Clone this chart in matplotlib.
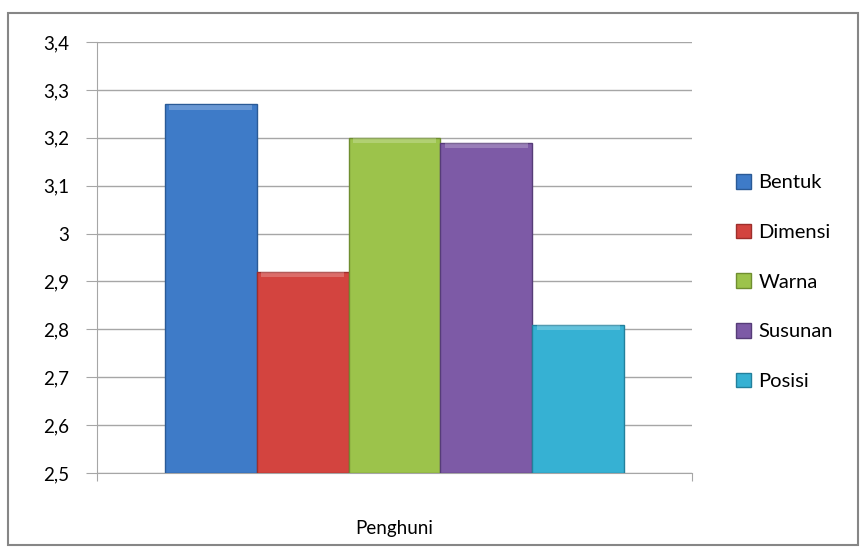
import matplotlib.pyplot as plt
import matplotlib.patches as mpatches

# data
kategori = ["Penghuni"]
seri = ["Bentuk", "Dimensi", "Warna", "Susunan", "Posisi"]
nilai = [3.27, 2.92, 3.20, 3.19, 2.81]
warna = ["#3E7BC8", "#D3443F", "#9CC34B", "#7D5AA6", "#36B1D3"]
tepi = ["#2A5A96", "#9E2E2B", "#6F8E30", "#563C78", "#23809C"]
yticks = [2.5, 2.6, 2.7, 2.8, 2.9, 3.0, 3.1, 3.2, 3.3, 3.4]
ylabels = ["2,5", "2,6", "2,7", "2,8", "2,9", "3", "3,1", "3,2", "3,3", "3,4"]

plt.rcParams['font.family'] = ['Lato', 'DejaVu Sans']

fig = plt.figure(figsize=(8.64, 5.53), dpi=100)
ax = fig.add_axes([97 / 864, 1 - 473 / 553, 595 / 864, 431 / 553])

# bingkai luar
fig.patches.append(mpatches.Rectangle((8 / 864, 1 - 545 / 553), 850 / 864, 532 / 553,
                                      transform=fig.transFigure, fill=False,
                                      edgecolor="#868686", linewidth=1.5))

lebar = 0.1546
for i, (s, v) in enumerate(zip(seri, nilai)):
    x = (i - 2) * lebar
    ax.bar(x, v - 2.5, bottom=2.5, width=lebar, color=warna[i], edgecolor=tepi[i],
           linewidth=1.0, label=s, zorder=3)
    # efek bevel atas
    ax.bar(x, 0.01, bottom=v - 0.011, width=lebar * 0.9, color="white", alpha=0.22,
           linewidth=0, zorder=4)

ax.set_xlim(-0.5, 0.5)
ax.set_ylim(2.5, 3.4)
ax.set_yticks(yticks)
ax.set_yticklabels(ylabels, fontsize=13.5)
ax.yaxis.grid(True, color="#A6A6A6", linewidth=1.0, zorder=0)
ax.tick_params(axis='y', length=8, color="#A6A6A6", pad=12)

ax.set_xticks([-0.5, 0.5])
ax.set_xticklabels(["", ""])
ax.set_xticks([0], minor=True)
ax.set_xticklabels(kategori, minor=True, fontsize=13.5)
ax.tick_params(axis='x', which='major', length=6, color="#A6A6A6")
ax.tick_params(axis='x', which='minor', length=0, pad=34)

for sp in ["top", "right"]:
    ax.spines[sp].set_visible(False)
for sp in ["left", "bottom"]:
    ax.spines[sp].set_color("#A6A6A6")

handles = [mpatches.Patch(facecolor=warna[i], edgecolor=tepi[i], label=s) for i, s in enumerate(seri)]
fig.legend(handles=handles, loc="center left", bbox_to_anchor=(718 / 864, 1 - 282 / 553),
           frameon=False, fontsize=14.5, handlelength=0.75, handleheight=0.75,
           handletextpad=0.35, labelspacing=1.6)

fig.savefig("out.png", dpi=100)
